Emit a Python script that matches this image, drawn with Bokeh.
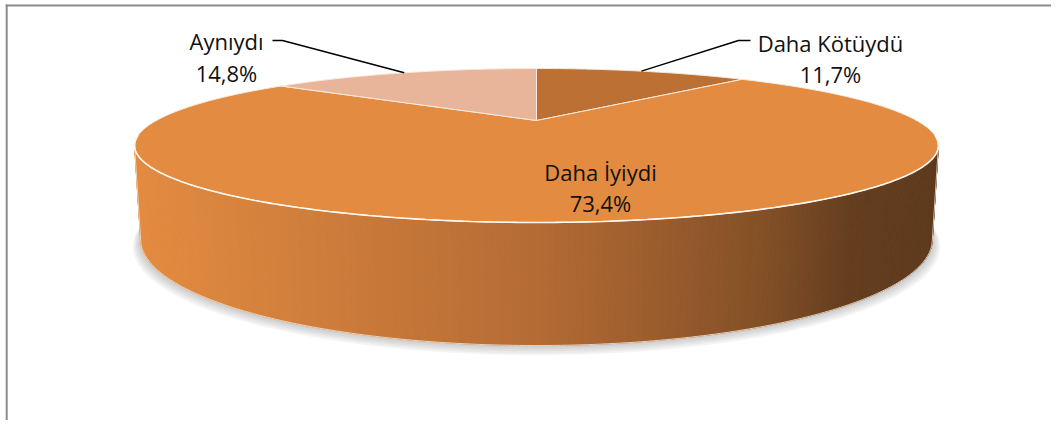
import numpy as np
from bokeh.plotting import figure
from bokeh.models import Range1d
from bokeh.embed import file_html
from bokeh.resources import INLINE
from bokeh.core.properties import value

# ---------------- data ----------------
categories = ["Daha Kötüydü", "Daha İyiydi", "Aynıydı"]
percents = [11.7, 73.4, 14.8]
slice_colors = ["#BC7034", "#E38B41", "#E8B59B"]

# label layout (pixel positions: centre x, baseline of line 1, baseline of line 2)
label_pos = [(830, 42, 73), (600, 171, 202), (226, 40, 72)]
# leader elbows (label side) for outside labels; None = no leader
leader_elbow = [[(750, 40), (738, 40)], None, [(272, 40), (282, 40)]]

# ---------------- geometry ----------------
W, H = 1051, 420
CX, CY = 536.0, 120.0
F = 1152.0
R = 0.33
D = 1.0
PHI = np.arcsin(0.1812)
DEPTH = 0.0761


def proj(X, Y, Z):
    X = np.asarray(X, float)
    Y = np.asarray(Y, float)
    Z = np.asarray(Z, float)
    yc = Z * np.cos(PHI) + Y * np.sin(PHI)
    zc = D + Y * np.cos(PHI) - Z * np.sin(PHI)
    return CX + F * X / zc, CY - F * yc / zc


def rim(theta_deg, z=0.0, r=R):
    t = np.radians(np.asarray(theta_deg, float))
    return proj(r * np.sin(t), r * np.cos(t), np.full_like(t, z))


total = sum(percents)
bounds = np.concatenate([[0], np.cumsum(percents) / total * 360.0])

p = figure(width=W, height=H, output_backend="svg", toolbar_location=None, tools="",
           x_range=Range1d(0, W), y_range=Range1d(H, 0),
           x_axis_location=None, y_axis_location=None, min_border=0)
p.outline_line_color = None
p.xgrid.grid_line_color = None
p.ygrid.grid_line_color = None
p.background_fill_color = "white"
p.border_fill_color = "white"

# ---- shadow under the cylinder ----
full = np.linspace(0, 360, 361)
for k in range(5, 0, -1):
    sx, sy = rim(full, -DEPTH, R * (1 + 0.0035 * k))
    p.patch(list(sx), list(sy + 1.2 * k), fill_color="#808080", fill_alpha=0.09,
            line_color=None)

# ---- side wall with horizontal gradient ----
ts = np.degrees(np.arccos(-R / (D * np.cos(PHI))))
side_th = np.linspace(ts, 360 - ts, 200)
tx, ty = rim(side_th, 0.0)
bx, by = rim(side_th, -DEPTH)
grad_x = [140, 320, 540, 760, 850, 937]
grad_c = np.array([(227, 139, 65), (206, 125, 59), (180, 107, 52),
                   (132, 80, 39), (100, 62, 31), (94, 58, 30)], float)
xs_list, ys_list, cols = [], [], []
for i in range(len(side_th) - 1):
    xs_list.append([tx[i], tx[i + 1], bx[i + 1], bx[i]])
    ys_list.append([ty[i], ty[i + 1], by[i + 1], by[i]])
    xm = 0.25 * (tx[i] + tx[i + 1] + bx[i] + bx[i + 1])
    c = [np.interp(xm, grad_x, grad_c[:, j]) for j in range(3)]
    cols.append("#%02x%02x%02x" % tuple(int(round(v)) for v in c))
p.patches(xs_list, ys_list, fill_color=cols, line_color=cols, line_width=1)

# bottom rim light edge
p.line(list(bx), list(by), line_color="#F0DCC8", line_width=1, line_alpha=0.9)
# side silhouette light edges
p.line([tx[0], bx[0]], [ty[0], by[0]], line_color="#F4E4D4", line_width=1, line_alpha=0.8)
p.line([tx[-1], bx[-1]], [ty[-1], by[-1]], line_color="#F4E4D4", line_width=1, line_alpha=0.8)

# ---- top face slices ----
for i in range(len(percents)):
    th = np.linspace(bounds[i], bounds[i + 1], 120)
    rx, ry = rim(th, 0.0)
    p.patch([CX] + list(rx), [CY] + list(ry), fill_color=slice_colors[i],
            line_color="#F6EADF", line_width=1)

# white highlight on front rim of the top face
fr_th = np.linspace(ts - 8, 360 - ts + 8, 200)
fx, fy = rim(fr_th, 0.0)
p.line(list(fx), list(fy), line_color="#FFF8F0", line_width=1.6)

# ---- leader lines ----
for i in range(len(percents)):
    if leader_elbow[i] is None:
        continue
    mid = 0.5 * (bounds[i] + bounds[i + 1])
    mx, my = rim([mid], 0.0)
    pts = leader_elbow[i] + [(float(mx[0]), float(my[0]))]
    p.line([q[0] for q in pts], [q[1] for q in pts], line_color="black", line_width=1.4)

# ---- labels ----
for i in range(len(percents)):
    cx, b1, b2 = label_pos[i]
    pct = ("%.1f%%" % percents[i]).replace(".", ",")
    p.text(x=[cx, cx], y=[b1, b2], text=[categories[i], pct],
           text_align="center", text_baseline="alphabetic",
           text_font=value("Open Sans"), text_font_size="22px", text_color="#111111")

# ---- chart area border (top and left) ----
p.line([6.2, 6.2], [4, H], line_color="#8C8C8C", line_width=2)
p.line([5.2, W], [5, 5], line_color="#8C8C8C", line_width=2)

open("out.html", "w").write(file_html(p, INLINE))
